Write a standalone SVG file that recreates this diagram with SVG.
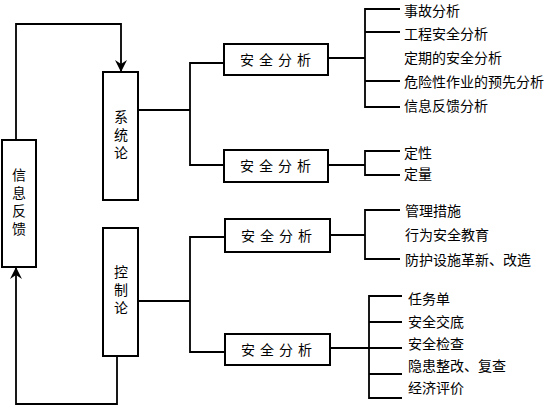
<svg xmlns="http://www.w3.org/2000/svg" width="555" height="412" viewBox="0 0 555 412">
<style>
.box{fill:#fff;stroke:#000;stroke-width:2}
.ln{fill:none;stroke:#000;stroke-width:1.8}
text{font-family:"Noto Sans CJK SC","Noto Sans",sans-serif;fill:#000;dominant-baseline:central}
.lf{font-size:14px}
.bt{font-size:14px;letter-spacing:5px;text-anchor:middle}
.vt{font-size:14px;text-anchor:middle;writing-mode:vertical-rl;letter-spacing:4px}
</style>
<defs>
<marker id="ah" viewBox="0 0 12 12" refX="12" refY="6" markerWidth="12" markerHeight="12" markerUnits="userSpaceOnUse" orient="auto">
<path d="M0,0 L12,6 L0,12 L4,6 Z" fill="#000"/>
</marker>
</defs>
<g id="connectors">
<path class="ln" d="M16,140 V24 H121 V72" marker-end="url(#ah)"/>
<path class="ln" d="M117,356 V404 H16 V267" marker-end="url(#ah)"/>
<path class="ln" d="M138,110 H190"/>
<path class="ln" d="M224,63 H190 V165 H224"/>
<path class="ln" d="M138,301 H190"/>
<path class="ln" d="M225,237 H190 V352 H225"/>
<path class="ln" d="M328,58 H365"/>
<path class="ln" d="M400,9 H365 V107 H400 M365,32 H400 M365,81 H400"/>
<path class="ln" d="M328,165 H365"/>
<path class="ln" d="M400,151 H365 V175 H400"/>
<path class="ln" d="M330,235 H365"/>
<path class="ln" d="M400,210 H365 V259 H400"/>
<path class="ln" d="M330,348 H369"/>
<path class="ln" d="M402,296 H369 V398 H402 M369,322 H402 M369,348 H402 M369,374 H402"/>
</g>
<g id="feedback">
<rect class="box" x="2" y="140" width="34" height="127"/>
<text class="vt" x="19" y="204">信息反馈</text>
</g>
<g id="system">
<rect class="box" x="103" y="72" width="35" height="128"/>
<text class="vt" x="121" y="137">系统论</text>
</g>
<g id="control">
<rect class="box" x="103" y="228" width="35" height="128"/>
<text class="vt" x="121" y="292">控制论</text>
</g>
<g id="sa1">
<rect class="box" x="224" y="44" width="104" height="31"/>
<text class="bt" x="278" y="59">安全分析</text>
</g>
<g id="sa2">
<rect class="box" x="224" y="150" width="104" height="32"/>
<text class="bt" x="278" y="165">安全分析</text>
</g>
<g id="sa3">
<rect class="box" x="225" y="219" width="105" height="33"/>
<text class="bt" x="279" y="235">安全分析</text>
</g>
<g id="sa4">
<rect class="box" x="225" y="334" width="105" height="31"/>
<text class="bt" x="279" y="349">安全分析</text>
</g>
<g id="leaves1">
<text class="lf" x="404" y="10">事故分析</text>
<text class="lf" x="404" y="33">工程安全分析</text>
<text class="lf" x="404" y="57">定期的安全分析</text>
<text class="lf" x="404" y="81">危险性作业的预先分析</text>
<text class="lf" x="404" y="105">信息反馈分析</text>
</g>
<g id="leaves2">
<text class="lf" x="404" y="152">定性</text>
<text class="lf" x="404" y="173">定量</text>
</g>
<g id="leaves3">
<text class="lf" x="405" y="210">管理措施</text>
<text class="lf" x="405" y="234">行为安全教育</text>
<text class="lf" x="405" y="259">防护设施革新、改造</text>
</g>
<g id="leaves4">
<text class="lf" x="408" y="298">任务单</text>
<text class="lf" x="408" y="321">安全交底</text>
<text class="lf" x="408" y="343">安全检查</text>
<text class="lf" x="408" y="365">隐患整改、复查</text>
<text class="lf" x="408" y="387">经济评价</text>
</g>
</svg>
